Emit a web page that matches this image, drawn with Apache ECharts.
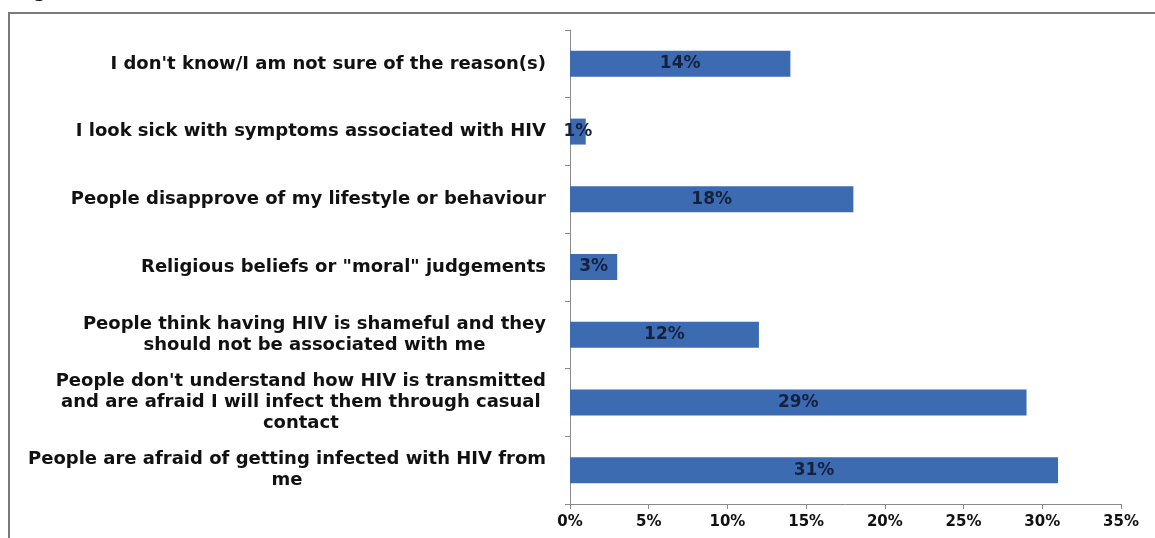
<!DOCTYPE html>
<html>
<head>
<meta charset="utf-8">
<script src="https://cdn.jsdelivr.net/npm/echarts@6/dist/echarts.min.js"></script>
<style>html,body{margin:0;padding:0;background:#fff;}#c{width:1155px;height:538px;}</style>
</head>
<body>
<div id="c"></div>
<script>
const categories = [
  "I don't know/I am not sure of the reason(s)",
  "I look sick with symptoms associated with HIV",
  "People disapprove of my lifestyle or behaviour",
  "Religious beliefs or \"moral\" judgements",
  "People think having HIV is shameful and they\nshould not be associated with me",
  "People don't understand how HIV is transmitted\nand are afraid I will infect them through casual\ncontact",
  "People are afraid of getting infected with HIV from\nme"
];
const values = [14, 1, 18, 3, 12, 29, 31];
const xTicks = { min: 0, max: 35, interval: 5 };

const FONT = 'DejaVu Sans';
const chart = echarts.init(document.getElementById('c'), null, { renderer: 'canvas' });
chart.setOption({
  backgroundColor: '#ffffff',
  animation: false,
  graphic: [
    { type: 'rect', shape: { x: 9, y: 13, width: 1300, height: 700 },
      style: { fill: 'none', stroke: '#7a7a7a', lineWidth: 2 }, silent: true },
    { type: 'text', x: 15, y: 1,
      style: { text: 'Fig', font: 'bold 18px ' + FONT, fill: '#000', verticalAlign: 'bottom' } }
  ],
  grid: { left: 570, right: 34, top: 30, bottom: 34, containLabel: false },
  xAxis: {
    type: 'value', min: xTicks.min, max: xTicks.max, interval: xTicks.interval,
    axisLine: { show: true, lineStyle: { color: '#8a8a8a', width: 1 } },
    axisTick: { show: true, length: 5, lineStyle: { color: '#8a8a8a' } },
    splitLine: { show: false },
    axisLabel: { formatter: '{value}%', fontFamily: FONT, fontWeight: 'bold', fontSize: 15, color: '#111', margin: 11 }
  },
  yAxis: {
    type: 'category', inverse: true, data: categories,
    axisLine: { show: true, lineStyle: { color: '#8a8a8a', width: 1 } },
    axisTick: { show: true, length: 5, lineStyle: { color: '#8a8a8a' } },
    axisLabel: {
      margin: 24, align: 'right',
      formatter: function (v) { return v.split('\n').map(function (s) { return '{c|' + s + '}'; }).join('\n'); },
      rich: { c: { align: 'center', fontFamily: FONT, fontWeight: 'bold', fontSize: 18, color: '#111', lineHeight: 21 } }
    }
  },
  series: [{
    type: 'bar', data: values, barWidth: 26,
    itemStyle: { color: '#3d6bb2' },
    label: { show: true, position: 'inside', formatter: '{c}%', fontFamily: FONT, fontWeight: 'bold', fontSize: 17, color: '#14213f' }
  }]
});
</script>
</body>
</html>
